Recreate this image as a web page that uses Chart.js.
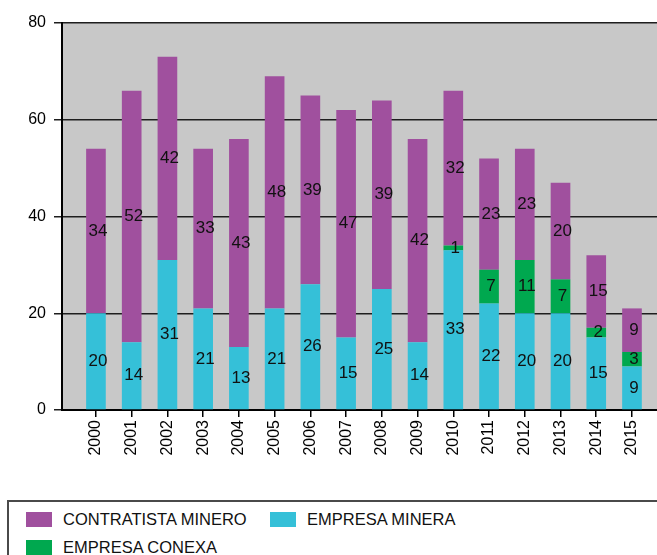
<!DOCTYPE html>
<html>
<head>
<meta charset="utf-8">
<script src="https://cdn.jsdelivr.net/npm/chart.js@4/dist/chart.umd.min.js"></script>
<style>
  html, body { margin: 0; padding: 0; background: #fff; }
  body { width: 657px; height: 555px; position: relative; overflow: hidden; font-family: "Liberation Sans", Arial, sans-serif; }
  #wrap { position: absolute; left: 0; top: 0; width: 657px; height: 470px; }
  #legend {
    position: absolute; left: 7px; top: 500px; width: 670px; height: 70px;
    border: 2px solid #4a4a4a; box-sizing: border-box;
    padding: 3px 0 0 17px;
    display: flex; flex-wrap: wrap; align-content: flex-start;
  }
  .item { width: 244px; height: 28px; display: flex; align-items: center; font-size: 16.5px; color: #111; }
  .sw { width: 26px; height: 15px; margin-right: 11px; flex: none; }
</style>
</head>
<body>
<div id="wrap"><canvas id="chart" width="657" height="470"></canvas></div>
<div id="legend"></div>
<script>
/* ── Chart data ── */
var years = [2000, 2001, 2002, 2003, 2004, 2005, 2006, 2007, 2008, 2009, 2010, 2011, 2012, 2013, 2014, 2015];
var empresaMinera      = [20, 14, 31, 21, 13, 21, 26, 15, 25, 14, 33, 22, 20, 20, 15, 9];
var empresaConexa      = [0, 0, 0, 0, 0, 0, 0, 0, 0, 0, 1, 7, 11, 7, 2, 3];
var contratistaMinero  = [34, 52, 42, 33, 43, 48, 39, 47, 39, 42, 32, 23, 23, 20, 15, 9];
var yTicks = [0, 20, 40, 60, 80];

var seriesNames  = ['EMPRESA MINERA', 'EMPRESA CONEXA', 'CONTRATISTA MINERO'];
var seriesColors = ['#35c0d8', '#00a84f', '#a0509e'];
var legendOrder  = [2, 0, 1];

Chart.defaults.font.family = '"Liberation Sans", Arial, sans-serif';
Chart.defaults.color = '#000';

function toPoints(values) {
    return years.map(function (yr, i) { return { x: yr, y: values[i] }; });
}

// gray plot background
var plotBackground = {
    id: 'plotBackground',
    beforeDraw: function (chart) {
        var a = chart.chartArea, ctx = chart.ctx;
        ctx.save();
        ctx.fillStyle = '#c8c8c8';
        ctx.fillRect(a.left, a.top, a.right - a.left, a.bottom - a.top);
        ctx.restore();
    }
};

// value labels in the middle of each segment
var segmentLabels = {
    id: 'segmentLabels',
    afterDatasetsDraw: function (chart) {
        var ctx = chart.ctx;
        ctx.save();
        ctx.font = '17px "Liberation Sans", Arial, sans-serif';
        ctx.fillStyle = '#111';
        ctx.textAlign = 'center';
        ctx.textBaseline = 'middle';
        chart.data.datasets.forEach(function (ds, di) {
            var meta = chart.getDatasetMeta(di);
            meta.data.forEach(function (bar, i) {
                var v = ds.data[i].y;
                if (!v) return;
                var p = bar.getProps(['x', 'y', 'base'], true);
                ctx.fillText(String(v), p.x + 2, (p.y + p.base) / 2);
            });
        });
        ctx.restore();
    }
};

var allSeries = [empresaMinera, empresaConexa, contratistaMinero];

new Chart(document.getElementById('chart'), {
    type: 'bar',
    data: {
        datasets: allSeries.map(function (vals, k) {
            return {
                label: seriesNames[k],
                data: toPoints(vals),
                backgroundColor: seriesColors[k],
                borderWidth: 0,
                barPercentage: 0.55,
                categoryPercentage: 1
            };
        })
    },
    options: {
        responsive: false,
        animation: false,
        layout: { padding: { top: 23, left: 0, right: 0, bottom: 0 } },
        plugins: { legend: { display: false }, tooltip: { enabled: false } },
        scales: {
            x: {
                type: 'linear',
                stacked: true,
                offset: false,
                min: 1999.05,
                max: 2015.7,
                afterBuildTicks: function (scale) {
                    scale.ticks = years.map(function (v) { return { value: v }; });
                },
                afterFit: function (scale) { scale.height = 60; },
                ticks: {
                    autoSkip: false,
                    minRotation: 90,
                    maxRotation: 90,
                    padding: 3,
                    font: { size: 16 },
                    callback: function (v) { return String(v); }
                },
                grid: { offset: false, drawOnChartArea: false, drawTicks: true, tickLength: 7, color: '#000', lineWidth: 1.5 },
                border: { color: '#000', width: 2 }
            },
            y: {
                stacked: true,
                min: 0,
                max: 80,
                afterBuildTicks: function (scale) {
                    scale.ticks = yTicks.map(function (v) { return { value: v }; });
                },
                afterFit: function (scale) { scale.width = 62; },
                ticks: { padding: 8, font: { size: 16 } },
                grid: { color: '#1e1e1e', lineWidth: 1.5, tickLength: 8 },
                border: { color: '#000', width: 2 }
            }
        }
    },
    plugins: [plotBackground, segmentLabels]
});

// legend box below the chart
var legend = document.getElementById('legend');
legendOrder.forEach(function (k) {
    var item = document.createElement('div');
    item.className = 'item';
    var sw = document.createElement('span');
    sw.className = 'sw';
    sw.style.background = seriesColors[k];
    var txt = document.createElement('span');
    txt.textContent = seriesNames[k];
    item.appendChild(sw);
    item.appendChild(txt);
    legend.appendChild(item);
});
</script>
</body>
</html>
